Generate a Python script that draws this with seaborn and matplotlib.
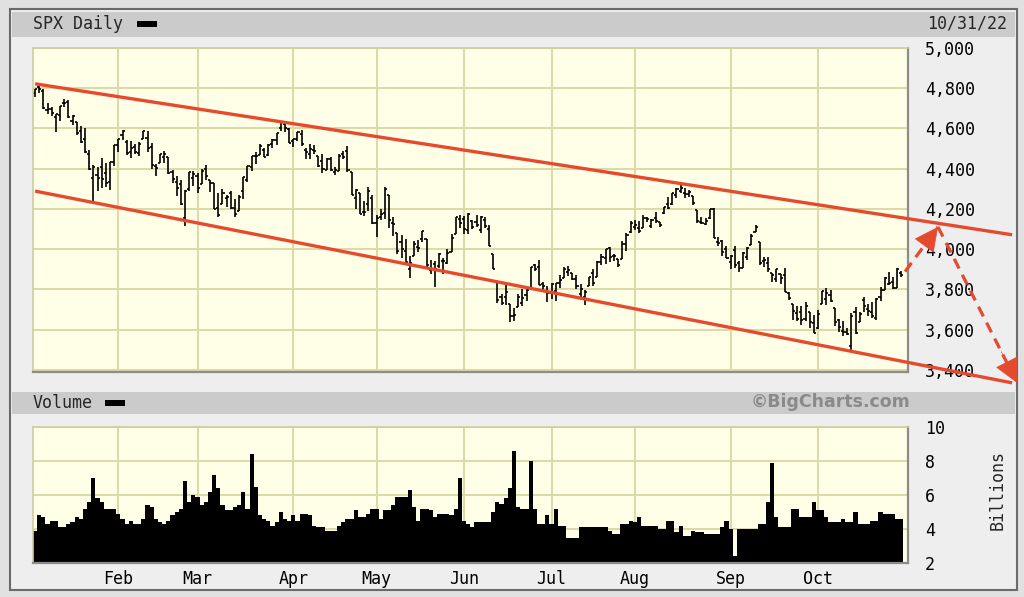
import numpy as np
import pandas as pd
import seaborn as sns
import matplotlib.pyplot as plt
from matplotlib.patches import Rectangle
from matplotlib.ticker import FuncFormatter

# SPX daily OHLC, Jan 3 - Oct 31 2022 (one row per month)
opens = [
    4778, 4805, 4788, 4693, 4698, 4655, 4669, 4729, 4734, 4638, 4632, 4588, 4547, 4471, 4356, 4367, 4408, 4381, 4336, 4432,
    4520, 4566, 4535, 4483, 4506, 4480, 4547, 4553, 4506, 4413, 4429, 4456, 4456, 4385, 4333, 4325, 4156, 4298, 4354,
    4363, 4323, 4401, 4342, 4327, 4203, 4223, 4253, 4280, 4203, 4189, 4288, 4345, 4407, 4462, 4469, 4493, 4470, 4523, 4541, 4603, 4624, 4599,
    4540, 4548, 4572, 4494, 4475, 4494, 4463, 4438, 4394, 4449, 4386, 4391, 4472, 4489, 4386, 4255, 4278, 4187, 4223, 4254,
    4131, 4160, 4181, 4270, 4128, 4081, 4035, 3990, 3904, 3964, 4013, 4052, 4052, 3899, 3928, 3919, 3943, 3930, 3985, 4077, 4151,
    4150, 4095, 4138, 4135, 4096, 4147, 4102, 3974, 3838, 3764, 3764, 3728, 3666, 3715, 3734, 3775, 3806, 3921, 3913, 3825, 3786,
    3781, 3793, 3832, 3859, 3888, 3881, 3852, 3780, 3764, 3818, 3884, 3861, 3935, 3955, 4007, 3966, 3953, 3951, 4026, 4087,
    4112, 4104, 4108, 4155, 4116, 4156, 4133, 4181, 4227, 4225, 4269, 4290, 4280, 4273, 4266, 4195, 4133, 4127, 4153, 4199, 4035, 4041, 4001,
    3937, 3995, 3931, 3909, 3960, 4023, 4084, 4037, 3941, 3932, 3881, 3850, 3875, 3871, 3782, 3727, 3683, 3686, 3652, 3687, 3633,
    3610, 3726, 3753, 3772, 3707, 3648, 3596, 3591, 3520, 3690, 3639, 3746, 3703, 3689, 3657, 3762, 3799, 3826, 3835, 3808, 3882,
]
highs = [
    4797, 4819, 4798, 4725, 4708, 4673, 4714, 4749, 4744, 4665, 4632, 4612, 4602, 4495, 4417, 4411, 4453, 4429, 4433, 4517,
    4550, 4595, 4543, 4540, 4522, 4531, 4590, 4589, 4526, 4426, 4473, 4490, 4456, 4395, 4362, 4342, 4295, 4385, 4389,
    4378, 4401, 4417, 4342, 4327, 4277, 4299, 4268, 4291, 4248, 4271, 4359, 4413, 4465, 4482, 4522, 4501, 4521, 4546, 4576, 4637, 4628, 4603,
    4549, 4584, 4593, 4504, 4521, 4520, 4464, 4471, 4454, 4460, 4410, 4471, 4488, 4513, 4386, 4299, 4278, 4241, 4308, 4270,
    4170, 4200, 4308, 4270, 4158, 4081, 4069, 4049, 3965, 4039, 4046, 4091, 4052, 3946, 3943, 3982, 3956, 3999, 4075, 4158, 4168,
    4167, 4178, 4143, 4169, 4165, 4160, 4119, 3974, 3838, 3778, 3838, 3728, 3708, 3780, 3802, 3803, 3914, 3928, 3946, 3837, 3819,
    3830, 3832, 3871, 3911, 3919, 3881, 3873, 3829, 3796, 3864, 3902, 3940, 3974, 3999, 4012, 3975, 3953, 4040, 4079, 4140,
    4145, 4140, 4168, 4161, 4152, 4187, 4137, 4211, 4258, 4280, 4302, 4325, 4302, 4293, 4266, 4195, 4160, 4157, 4201, 4203, 4063, 4045, 4015,
    3970, 4018, 3943, 3988, 4011, 4077, 4119, 4037, 3962, 3959, 3881, 3900, 3876, 3907, 3790, 3727, 3716, 3718, 3737, 3687, 3671,
    3698, 3792, 3807, 3798, 3707, 3652, 3641, 3608, 3685, 3712, 3690, 3763, 3729, 3736, 3758, 3811, 3863, 3886, 3860, 3905, 3894,
]
lows = [
    4758, 4774, 4699, 4671, 4663, 4582, 4638, 4707, 4650, 4615, 4569, 4530, 4478, 4395, 4223, 4287, 4305, 4310, 4292, 4414,
    4484, 4544, 4470, 4452, 4471, 4465, 4547, 4484, 4401, 4365, 4429, 4430, 4374, 4327, 4267, 4222, 4115, 4287, 4315,
    4280, 4323, 4346, 4285, 4200, 4158, 4223, 4210, 4200, 4162, 4188, 4252, 4336, 4391, 4424, 4469, 4456, 4465, 4501, 4518, 4590, 4581, 4530,
    4508, 4539, 4514, 4450, 4450, 4475, 4408, 4381, 4393, 4391, 4370, 4391, 4449, 4384, 4268, 4201, 4175, 4163, 4189, 4124,
    4063, 4147, 4149, 4106, 4068, 3975, 3958, 3929, 3859, 3964, 3984, 4034, 3912, 3877, 3810, 3909, 3875, 3925, 3985, 4077, 4105,
    4074, 4074, 4099, 4109, 4080, 4107, 4017, 3900, 3734, 3725, 3722, 3640, 3643, 3715, 3718, 3744, 3806, 3890, 3820, 3799, 3739,
    3752, 3742, 3809, 3859, 3869, 3847, 3802, 3759, 3722, 3817, 3819, 3861, 3922, 3928, 3939, 3943, 3911, 3951, 3993, 4079,
    4096, 4080, 4108, 4135, 4107, 4129, 4112, 4177, 4201, 4220, 4257, 4278, 4253, 4262, 4219, 4130, 4124, 4120, 4148, 4058, 4017, 3965, 3955,
    3904, 3906, 3887, 3906, 3945, 4023, 4084, 3921, 3912, 3888, 3837, 3839, 3828, 3789, 3749, 3647, 3645, 3623, 3641, 3610, 3584,
    3605, 3726, 3723, 3739, 3621, 3588, 3568, 3574, 3492, 3580, 3639, 3687, 3667, 3656, 3647, 3742, 3799, 3824, 3804, 3808, 3863,
]
closes = [
    4797, 4794, 4701, 4696, 4677, 4670, 4713, 4726, 4659, 4663, 4577, 4533, 4483, 4398, 4410, 4356, 4350, 4327, 4432, 4516,
    4547, 4589, 4477, 4501, 4484, 4522, 4587, 4504, 4419, 4402, 4471, 4475, 4380, 4349, 4305, 4226, 4289, 4385, 4374,
    4306, 4387, 4363, 4329, 4201, 4171, 4278, 4260, 4204, 4173, 4262, 4358, 4412, 4463, 4461, 4512, 4456, 4520, 4543, 4576, 4632, 4602, 4530,
    4546, 4583, 4525, 4481, 4500, 4488, 4413, 4397, 4447, 4393, 4392, 4462, 4459, 4394, 4272, 4296, 4175, 4184, 4288, 4132,
    4155, 4175, 4300, 4147, 4123, 3991, 4001, 3935, 3930, 4024, 4008, 4089, 3924, 3901, 3901, 3974, 3941, 3979, 4058, 4158, 4132,
    4101, 4177, 4109, 4121, 4161, 4116, 4018, 3901, 3750, 3735, 3790, 3667, 3675, 3765, 3760, 3796, 3912, 3900, 3822, 3819, 3785,
    3825, 3831, 3845, 3903, 3899, 3854, 3819, 3802, 3790, 3863, 3831, 3937, 3960, 3999, 3962, 3967, 3921, 4024, 4072, 4130,
    4119, 4091, 4155, 4152, 4145, 4140, 4122, 4210, 4207, 4280, 4297, 4305, 4274, 4284, 4228, 4138, 4129, 4141, 4199, 4058, 4031, 3986, 3955,
    3967, 3924, 3908, 3980, 4006, 4067, 4110, 3933, 3946, 3901, 3873, 3900, 3856, 3790, 3758, 3693, 3655, 3647, 3719, 3640, 3586,
    3678, 3791, 3783, 3745, 3640, 3612, 3589, 3577, 3670, 3583, 3678, 3720, 3695, 3666, 3753, 3797, 3859, 3831, 3807, 3901, 3872,
]

# daily volume, billions of shares
volume_bn = [
    3.9, 4.8, 4.7, 4.3, 4.5, 4.5, 4.1, 4.1, 4.3, 4.4,
    4.7, 4.6, 5.2, 5.6, 7.0, 5.8, 5.6, 5.2, 5.2, 5.2,
    4.9, 4.6, 4.3, 4.5, 4.3, 4.3, 4.6, 5.4, 5.3, 4.6,
    4.4, 4.3, 4.5, 4.8, 5.0, 5.2, 6.8, 5.6, 6.0, 5.9,
    5.4, 5.6, 6.2, 7.2, 6.4, 5.4, 5.1, 5.1, 5.3, 5.4,
    6.2, 5.2, 8.4, 6.5, 4.8, 4.6, 4.5, 4.2, 4.4, 5.0,
    4.6, 4.5, 4.8, 4.5, 4.9, 4.9, 4.8, 4.2, 4.1, 4.1,
    3.9, 3.9, 3.9, 4.2, 4.4, 4.6, 4.6, 5.1, 4.7, 4.7,
    4.9, 5.2, 5.2, 4.6, 5.1, 5.1, 5.4, 5.9, 5.9, 5.9,
    6.3, 5.3, 4.5, 5.2, 5.2, 5.1, 4.7, 4.9, 4.9, 4.9,
    4.8, 5.2, 7.0, 4.5, 4.3, 4.1, 4.4, 4.4, 4.4, 4.4,
    5.0, 5.6, 5.5, 5.8, 6.4, 8.6, 5.3, 5.2, 5.2, 8.0,
    5.2, 4.3, 4.3, 4.8, 4.3, 5.2, 4.2, 4.2, 3.5, 3.5,
    3.5, 4.1, 4.1, 4.1, 4.1, 4.1, 4.1, 4.1, 3.9, 3.7,
    3.7, 4.3, 4.3, 4.5, 4.4, 4.7, 4.2, 4.2, 4.2, 4.2,
    4.0, 4.0, 4.5, 4.5, 3.8, 4.2, 3.6, 3.6, 3.9, 3.8,
    3.8, 3.7, 3.7, 3.7, 3.7, 4.1, 4.5, 4.0, 2.4, 4.0,
    4.0, 4.0, 4.0, 4.0, 4.3, 4.3, 5.6, 7.9, 4.7, 4.1,
    4.1, 4.1, 5.2, 5.2, 4.7, 4.7, 4.7, 5.6, 5.1, 5.1,
    4.7, 4.4, 4.4, 4.4, 4.6, 4.4, 4.4, 5.0, 4.3, 4.3,
    4.3, 4.5, 4.5, 5.0, 4.9, 4.9, 4.9, 4.6, 4.6,
]

month_labels = ["Feb", "Mar", "Apr", "May", "Jun", "Jul", "Aug", "Sep", "Oct"]
price_ticks = [3400, 3600, 3800, 4000, 4200, 4400, 4600, 4800, 5000]
volume_ticks = [2, 4, 6, 8, 10]

# hand-drawn channel and projection (trading-day index, price)
channel_x = [0, 234.6]
channel_upper = [4822, 4072]
channel_lower = [4289, 3336]
arrow_pts = [(208.9, 3889), (216.8, 4111), (235.8, 3336)]

holidays = ["2022-01-17", "2022-02-21", "2022-04-15", "2022-05-30",
            "2022-06-20", "2022-07-04", "2022-09-05"]
dates = pd.bdate_range("2022-01-03", "2022-10-31", freq="C", holidays=holidays)

df = pd.DataFrame({
    "day": np.arange(len(dates)),
    "open": opens, "high": highs, "low": lows, "close": closes,
    "volume": volume_bn,
})
month_pos = [int(np.argmax(dates.month == m)) for m in range(2, 11)]

CREAM = "#fffee6"
GRID = "#dcd9a6"
RED = "#e64a2e"

sns.set_theme(style="white")
plt.rcParams["font.family"] = ["DejaVu Sans Mono"]

fig = plt.figure(figsize=(10.24, 5.97), dpi=100, facecolor="#e1e1e1")


def fx(px):
    return px / 1024


def fy(py):
    return 1 - py / 597


# frame and header bars
fig.add_artist(Rectangle((fx(10), fy(590)), fx(1007), 581 / 597, transform=fig.transFigure,
                         facecolor="#eeeeee", edgecolor="#6a6a6a", lw=1.5, zorder=-3))
fig.add_artist(Rectangle((fx(12), fy(37)), fx(1003), 25 / 597, transform=fig.transFigure,
                         facecolor="#cbcbcb", edgecolor="none", zorder=-2))
fig.add_artist(Rectangle((fx(12), fy(414)), fx(1003), 22 / 597, transform=fig.transFigure,
                         facecolor="#cbcbcb", edgecolor="none", zorder=-2))
fig.add_artist(Rectangle((fx(137), fy(27)), fx(20), 6 / 597, transform=fig.transFigure,
                         facecolor="black", edgecolor="none", zorder=2))
fig.add_artist(Rectangle((fx(105), fy(406)), fx(20), 6 / 597, transform=fig.transFigure,
                         facecolor="black", edgecolor="none", zorder=2))

fig.text(fx(33), fy(24), "SPX Daily", ha="left", va="center", fontsize=12)
fig.text(fx(1007), fy(24), "10/31/22", ha="right", va="center", fontsize=12)
fig.text(fx(33), fy(403), "Volume", ha="left", va="center", fontsize=12)
fig.text(fx(910), fy(402), "\u00a9BigCharts.com", ha="right", va="center", fontsize=12.5,
         family="DejaVu Sans", weight="bold", color="#8a8a8a")
fig.text(fx(998), fy(490), "Billions", ha="center", va="center", rotation=90, fontsize=12)

ax = fig.add_axes([fx(33), fy(372), fx(875), 324 / 597])
axv = fig.add_axes([fx(33), fy(563), fx(875), 136 / 597])


def style_panel(a):
    a.set_facecolor(CREAM)
    a.grid(True, color=GRID, lw=1.4)
    a.set_axisbelow(True)
    for side in ["top", "left"]:
        a.spines[side].set_color("#cfcca0")
        a.spines[side].set_linewidth(1.2)
    for side in ["right", "bottom"]:
        a.spines[side].set_color("#8c8c8c")
        a.spines[side].set_linewidth(1.6)
    a.yaxis.tick_right()
    a.tick_params(length=0, labelsize=12, colors="black")
    a.tick_params(axis="y", pad=12)


# price bars
style_panel(ax)
ax.vlines(df["day"], df["low"], df["high"], color="black", lw=1.2)
ax.hlines(df["open"], df["day"] - 0.5, df["day"], color="black", lw=1.2)
ax.hlines(df["close"], df["day"], df["day"] + 0.5, color="black", lw=1.2)
ax.set_xlim(-0.5, 209.6)
ax.set_xticks(month_pos)
ax.set_xticklabels([])
ax.set_ylim(3390, 5000)
ax.set_yticks(price_ticks)
ax.yaxis.set_major_formatter(FuncFormatter(lambda v, p: f"{v:,.0f}"))

# trend channel
ax.plot(channel_x, channel_upper, color=RED, lw=2.4, clip_on=False, solid_capstyle="butt", zorder=5)
ax.plot(channel_x, channel_lower, color=RED, lw=2.4, clip_on=False, solid_capstyle="butt", zorder=5)

# projected path: dashed shafts with solid heads
for (x0, y0), (x1, y1) in zip(arrow_pts[:-1], arrow_pts[1:]):
    ax.plot([x0, x1], [y0, y1], color=RED, lw=2.3, dashes=(3.4, 2.2),
            clip_on=False, zorder=5)
    ax.annotate("", xy=(x1, y1), xytext=(x1 - 0.2 * (x1 - x0), y1 - 0.2 * (y1 - y0)),
                annotation_clip=False, zorder=6,
                arrowprops=dict(arrowstyle="-|>,head_length=1.0,head_width=0.5",
                                color=RED, lw=0.5, mutation_scale=16,
                                shrinkA=0, shrinkB=0))

# volume
style_panel(axv)
sns.histplot(data=df, x="day", weights="volume", discrete=True,
             element="step", fill=True, color="black", alpha=1, linewidth=0, ax=axv)
axv.set_xlim(-0.5, 209.6)
axv.set_ylim(2, 10)
axv.set_yticks(volume_ticks)
axv.set_xticks(month_pos)
axv.set_xticklabels(month_labels)
axv.tick_params(axis="x", pad=5)
axv.set_xlabel("")
axv.set_ylabel("")

plt.savefig("out.png", dpi=100, facecolor=fig.get_facecolor())
